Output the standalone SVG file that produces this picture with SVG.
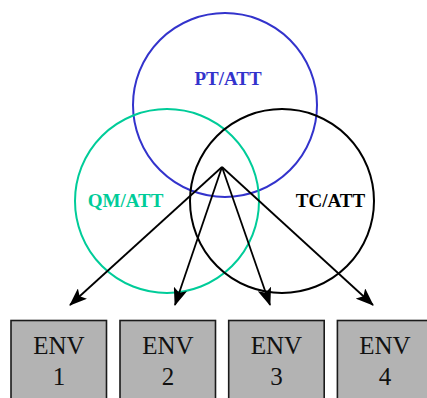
<svg xmlns="http://www.w3.org/2000/svg" width="427" height="398" viewBox="0 0 427 398">
  <style>
    .set { fill: none; stroke-width: 2; }
    .setlabel { font-family: "Liberation Serif", "Times New Roman", serif; font-weight: bold; font-size: 19px; text-anchor: middle; }
    .env rect { fill: #b3b3b3; stroke: #1a1a1a; stroke-width: 1.6; }
    .env text { font-family: "Liberation Serif", "Times New Roman", serif; font-size: 25px; fill: #111; text-anchor: middle; }
    .link { stroke: #000; stroke-width: 1.8; fill: none; marker-end: url(#head); }
  </style>
  <defs>
    <marker id="head" viewBox="0 0 18 14" refX="17" refY="7" markerWidth="18" markerHeight="14" markerUnits="userSpaceOnUse" orient="auto">
      <path d="M0,0 L18,7 L0,14 L4,7 Z" fill="#000"/>
    </marker>
  </defs>

  <g id="pt">
    <circle class="set" cx="225" cy="105" r="92" stroke="#3333cc"/>
    <text class="setlabel" x="228" y="85" fill="#3333cc">PT/ATT</text>
  </g>
  <g id="qm">
    <circle class="set" cx="167" cy="201" r="92" stroke="#00cc99"/>
    <text class="setlabel" x="125.5" y="207" fill="#00cc99">QM/ATT</text>
  </g>
  <g id="tc">
    <circle class="set" cx="282" cy="201" r="92" stroke="#000"/>
    <text class="setlabel" x="330.5" y="207" fill="#000">TC/ATT</text>
  </g>

  <g id="connectors">
    <line class="link" x1="222" y1="167" x2="70" y2="305"/>
    <line class="link" x1="222" y1="167" x2="175" y2="305"/>
    <line class="link" x1="222" y1="167" x2="270" y2="305"/>
    <line class="link" x1="222" y1="167" x2="373" y2="305"/>
  </g>

  <g id="env1" class="env">
    <rect x="11" y="320.5" width="95.5" height="90"/>
    <text x="59" y="354">ENV</text>
    <text x="59" y="385">1</text>
  </g>
  <g id="env2" class="env">
    <rect x="120" y="320.5" width="95.5" height="90"/>
    <text x="168" y="354">ENV</text>
    <text x="168" y="385">2</text>
  </g>
  <g id="env3" class="env">
    <rect x="228.7" y="320.5" width="95.5" height="90"/>
    <text x="276.5" y="354">ENV</text>
    <text x="276.5" y="385">3</text>
  </g>
  <g id="env4" class="env">
    <rect x="337.4" y="320.5" width="95.5" height="90"/>
    <text x="385" y="354">ENV</text>
    <text x="385" y="385">4</text>
  </g>
</svg>
